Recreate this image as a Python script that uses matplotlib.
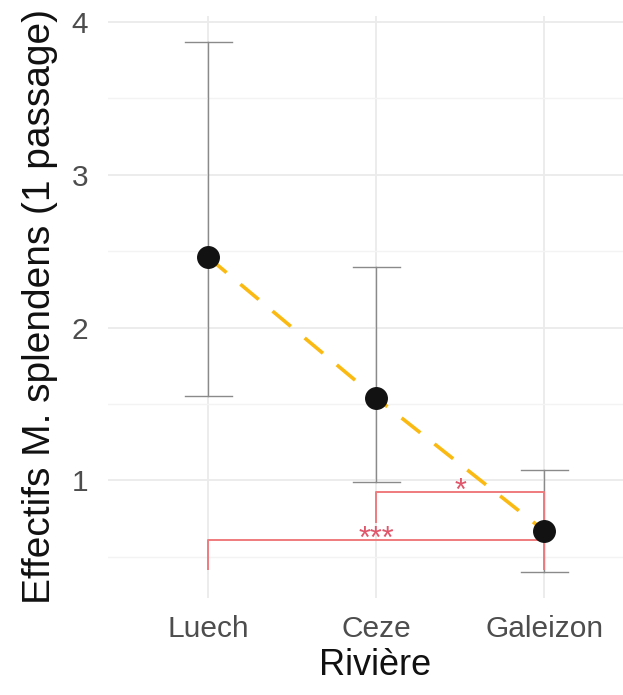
import matplotlib.pyplot as plt
from matplotlib.ticker import MultipleLocator

plt.rcParams['font.family'] = ['Liberation Sans', 'DejaVu Sans']

# --- data ---
rivieres = ['Luech', 'Ceze', 'Galeizon']
moyennes = [2.46, 1.54, 0.67]
ic_bas = [1.55, 0.99, 0.40]
ic_haut = [3.87, 2.40, 1.07]

# comparaisons significatives (index a, index b, hauteur, pointe gauche, pointe droite, label)
comp_a = [1, 0]
comp_b = [2, 2]
comp_y = [0.925, 0.61]
comp_tip_g = [0.73, 0.42]
comp_tip_d = [0.60, 0.42]
comp_lab = ['*', '***']

x = list(range(1, len(rivieres) + 1))

W, H = 623, 695
fig = plt.figure(figsize=(W / 100, H / 100), dpi=100)
# panneau en pixels : gauche 107.5, droite 645 (hors image), haut 16, bas 598
ax = fig.add_axes([107.5 / W, 97 / H, 537.5 / W, 582 / H])

# grille facon theme_minimal
ax.set_axisbelow(True)
ax.yaxis.set_major_locator(MultipleLocator(1))
ax.yaxis.set_minor_locator(MultipleLocator(0.5))
ax.grid(which='major', color='#EBEBEB', linewidth=1.3)
ax.grid(which='minor', axis='y', color='#F3F3F3', linewidth=1.0)
for s in ax.spines.values():
    s.set_visible(False)
ax.tick_params(which='both', length=0)

# barres d'erreur
cap = 0.14
for xi, lo, hi in zip(x, ic_bas, ic_haut):
    ax.plot([xi, xi], [lo, hi], color='#8A8A8A', lw=1.0, zorder=2)
    ax.plot([xi - cap, xi + cap], [lo, lo], color='#8A8A8A', lw=1.0, zorder=2)
    ax.plot([xi - cap, xi + cap], [hi, hi], color='#8A8A8A', lw=1.0, zorder=2)

# ligne de tendance
ax.plot(x, moyennes, color='#FBBA12', lw=2.6, ls=(0, (6.6, 5)), zorder=3)

# comparaisons
for a, b, y, tg, td, lab in zip(comp_a, comp_b, comp_y, comp_tip_g, comp_tip_d, comp_lab):
    xa, xb = x[a], x[b]
    ax.plot([xa, xa, xb, xb], [tg, y, y, td], color='#EF7B7E', lw=1.4, zorder=4)
    ax.annotate(lab, ((xa + xb) / 2, y), xytext=(0, -6), textcoords='offset points',
                color='#E0566A', ha='center', va='baseline', fontsize=22, zorder=5)

# points
ax.plot(x, moyennes, 'o', color='#121212', markersize=15.5, zorder=6)

ax.set_xlim(0.4, 3.6)
ax.set_ylim(0.23, 4.04)
ax.set_xticks(x)
ax.set_xticklabels(rivieres)
ax.set_yticks([1, 2, 3, 4])
ax.tick_params(axis='both', labelsize=21.5, labelcolor='#4D4D4D')
ax.tick_params(axis='x', pad=12)
ax.tick_params(axis='y', pad=14)

fig.text(375 / W, 1 - 675 / H, 'Rivière', fontsize=26, color='#111111',
         ha='center', va='baseline')
fig.text(50 / W, 1 - 307 / H, 'Effectifs M. splendens (1 passage)', fontsize=28,
         color='#111111', rotation=90, rotation_mode='anchor', ha='center', va='baseline')

fig.savefig('out.png', dpi=100)
